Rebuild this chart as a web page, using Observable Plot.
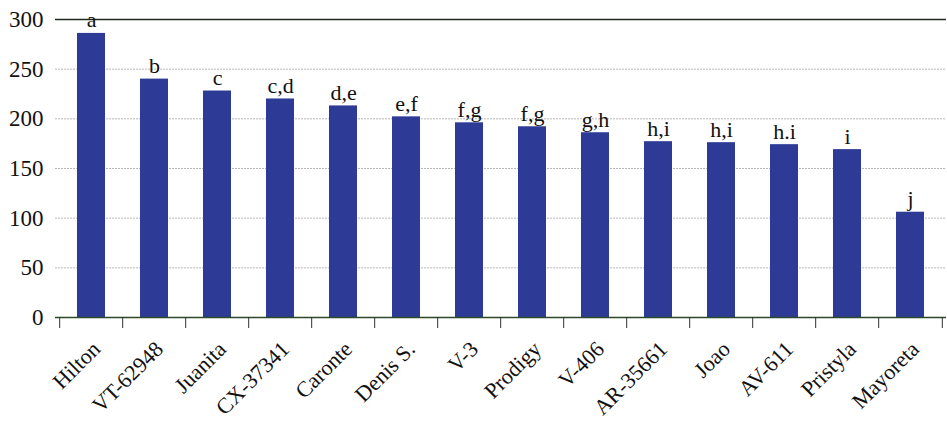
<!DOCTYPE html>
<html>
<head>
<meta charset="utf-8">
<script src="https://cdn.jsdelivr.net/npm/d3@7"></script>
<script src="https://cdn.jsdelivr.net/npm/@observablehq/plot@0.6"></script>
<style>
  html, body { margin: 0; padding: 0; background: #fff; }
  #chart svg { display: block; }
</style>
</head>
<body>
<div id="chart"></div>
<script>
const categories = ["Hilton", "VT-62948", "Juanita", "CX-37341", "Caronte", "Denis S.", "V-3", "Prodigy", "V-406", "AR-35661", "Joao", "AV-611", "Pristyla", "Mayoreta"];
const values = [286, 240, 228, 220, 213, 202, 196, 192, 186, 177, 176, 174, 169, 106];
const groups = ["a", "b", "c", "c,d", "d,e", "e,f", "f,g", "f,g", "g,h", "h,i", "h,i", "h.i", "i", "j"];
const yTicks = [0, 50, 100, 150, 200, 250, 300];
const gridTicks = [50, 100, 150, 200, 250];

const data = categories.map((c, i) => ({ name: c, value: values[i], group: groups[i] }));

const W = 947, H = 424;
const mL = 55, mR = 1;
const step = (W - mL - mR) / categories.length;

const chart = Plot.plot({
  width: W,
  height: H,
  marginLeft: mL,
  marginRight: mR,
  marginTop: 19,
  marginBottom: 107,
  style: { fontFamily: "'Liberation Serif', 'Times New Roman', serif", color: "#111", background: "#fff" },
  x: { domain: categories, paddingInner: 0.56, paddingOuter: 0.28, axis: null, label: null },
  y: { domain: [0, 300], axis: null, label: null },
  marks: [
    Plot.gridY(gridTicks, { stroke: "#b8b8b8", strokeOpacity: 1, strokeDasharray: "2,1" }),
    Plot.barY(data, { x: "name", y: "value", fill: "#2d3a96" }),
    Plot.ruleY([300], { stroke: "#1e2a1e", strokeWidth: 1.5 }),
    Plot.ruleY([0], { stroke: "#2a4a2a", strokeWidth: 1.5 }),
    Plot.text(data, { x: "name", y: "value", text: "group", fontSize: 22, lineAnchor: "bottom", dy: -6, fill: "#111" }),
    Plot.axisY({ ticks: yTicks, tickSize: 0, tickPadding: 12, fontSize: 23, fill: "#111", label: null }),
    Plot.axisX({ tickSize: 11, tickFormat: null, dx: -step / 2, stroke: "#333", label: null }),
    Plot.axisX({ ticks: [categories[categories.length - 1]], tickSize: 11, tickFormat: null, dx: step / 2, stroke: "#333", label: null }),
    Plot.axisX({ tickSize: 0, tickRotate: -45, tickPadding: 28, dx: 5, fontSize: 22, fill: "#111", label: null })
  ]
});

document.getElementById("chart").appendChild(chart);
</script>
</body>
</html>
